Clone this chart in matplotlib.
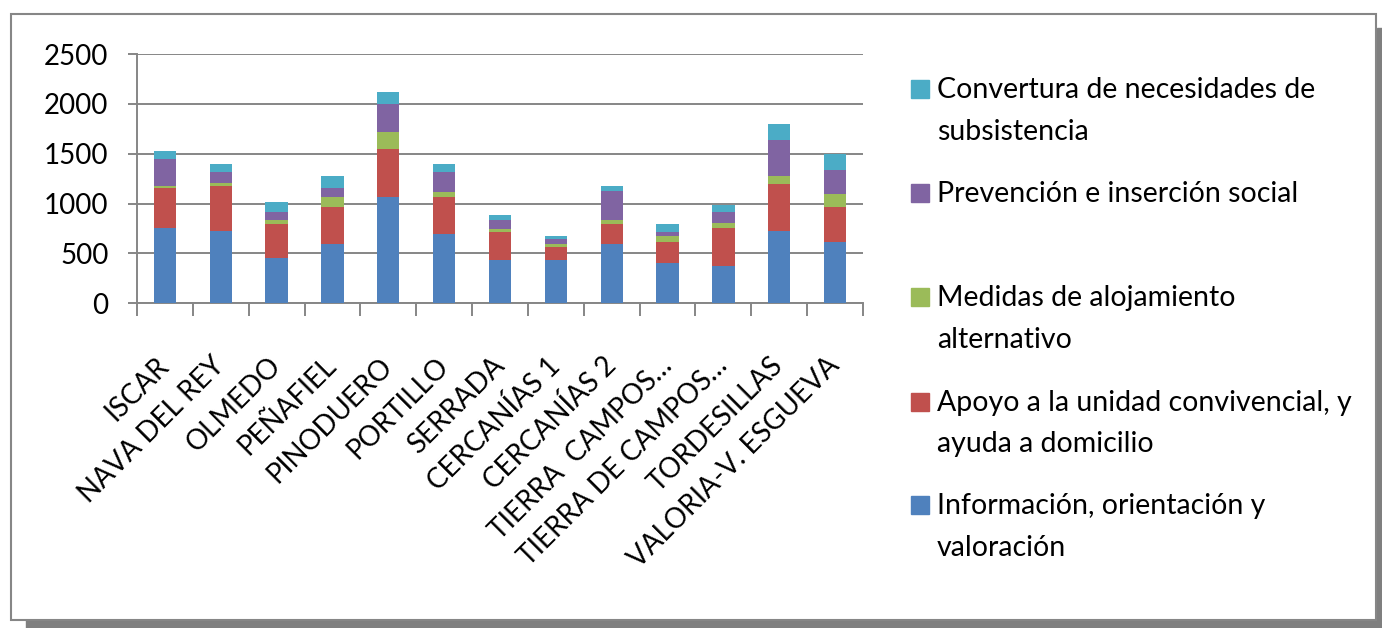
import matplotlib
matplotlib.use("Agg")
import matplotlib.pyplot as plt
from matplotlib.patches import Rectangle
import numpy as np

plt.rcParams['font.family'] = ['Lato', 'DejaVu Sans']

categories = ["ISCAR", "NAVA DEL REY", "OLMEDO", "PEÑAFIEL", "PINODUERO", "PORTILLO",
              "SERRADA", "CERCANÍAS 1", "CERCANÍAS 2", "TIERRA  CAMPOS…",
              "TIERRA DE CAMPOS…", "TORDESILLAS", "VALORIA-V. ESGUEVA"]

informacion = [759, 725, 458, 598, 1066, 698, 438, 438, 598, 404, 378, 725, 618]
apoyo       = [401, 455, 341, 371, 485, 371, 277, 127, 197, 211, 377, 471, 348]
alojamiento = [20, 26, 40, 100, 170, 51, 30, 30, 41, 60, 50, 81, 130]
prevencion  = [267, 111, 80, 91, 281, 197, 91, 50, 290, 40, 111, 361, 241]
cobertura   = [80, 80, 97, 120, 120, 80, 50, 30, 50, 80, 70, 160, 160]

series_names = ["Información, orientación y\nvaloración",
                "Apoyo a la unidad convivencial, y\nayuda a domicilio",
                "Medidas de alojamiento\nalternativo",
                "Prevención e inserción social",
                "Convertura de necesidades de\nsubsistencia"]
series_colors = ["#4F81BD", "#C0504D", "#9BBB59", "#8064A2", "#4BACC6"]

yticks = [0, 500, 1000, 1500, 2000, 2500]

W, H = 1382, 628
fig = plt.figure(figsize=(W / 100, H / 100), dpi=100)

def fx(px):
    return px / W

def fy(py):
    return 1 - py / H

# frame + shadow
fig.patches.append(Rectangle((fx(1377), fy(628)), fx(5), (628 - 28) / H,
                             transform=fig.transFigure, color="#7f7f7f", zorder=0))
fig.patches.append(Rectangle((fx(26), fy(628)), fx(1382 - 26), 8 / H,
                             transform=fig.transFigure, color="#7f7f7f", zorder=0))
fig.patches.append(Rectangle((fx(11), fy(620)), fx(1376 - 11), (620 - 14) / H,
                             transform=fig.transFigure, facecolor="white",
                             edgecolor="#868686", lw=1.5, zorder=1))

ax = fig.add_axes([fx(137), fy(303.3), fx(863 - 137), (303.3 - 54) / H])
ax.set_zorder(2)
ax.patch.set_alpha(0)

x = np.arange(len(categories))
data = [informacion, apoyo, alojamiento, prevencion, cobertura]
bottom = np.zeros(len(categories))
for vals, col, name in zip(data, series_colors, series_names):
    ax.bar(x, vals, bottom=bottom, width=0.4, color=col, label=name, zorder=3)
    bottom += np.array(vals)

ax.set_xlim(-0.5, len(categories) - 0.5)
ax.set_ylim(0, 2500)
ax.set_yticks(yticks)
ax.set_yticklabels([str(v) for v in yticks], fontsize=20, color="black")
ax.yaxis.grid(True, color="#868686", lw=1.4, zorder=0)
ax.set_axisbelow(True)

ax.set_xticks(x)
ax.set_xticklabels(categories, rotation=45, ha="right", va="center",
                   rotation_mode="anchor", fontsize=20)
ax.set_xticks(np.arange(len(categories) + 1) - 0.5, minor=True)
ax.tick_params(axis="x", which="major", length=0, pad=42)
ax.tick_params(axis="x", which="minor", length=9.4, width=1.4, color="#868686")
ax.tick_params(axis="y", length=6.5, width=1.4, color="#868686", pad=14)

for s in ["top", "right"]:
    ax.spines[s].set_visible(False)
for s in ["left", "bottom"]:
    ax.spines[s].set_color("#868686")
    ax.spines[s].set_linewidth(1.4)

# legend (drawn manually, top-to-bottom reversed order)
leg_y = [98, 202, 306, 410.5, 514]
for i, (name, col) in enumerate(zip(series_names[::-1], series_colors[::-1])):
    yb = leg_y[i]
    fig.patches.append(Rectangle((fx(911), fy(yb)), fx(18), 18 / H,
                                 transform=fig.transFigure, color=col, zorder=3))
    for j, line in enumerate(name.split("\n")):
        fig.text(fx(937), fy(yb + 41.5 * j), line, fontsize=20.5, va="baseline",
                 ha="left", color="black", zorder=3)

fig.savefig("out.png", dpi=100)
